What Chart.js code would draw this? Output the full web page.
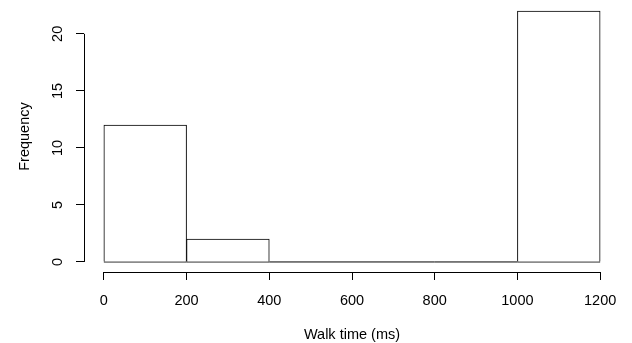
<!DOCTYPE html>
<html>
<head>
<meta charset="utf-8">
<script src="https://cdn.jsdelivr.net/npm/chart.js@4"></script>
<style>
	html, body { margin: 0; padding: 0; background: #fff; }
	#wrap { width: 632px; height: 343px; }
</style>
</head>
<body>
<div id="wrap"><canvas id="hist-chart" width="632" height="343"></canvas></div>
<script>
// histogram of walk times, bins of 200 ms
const binEdges = [0, 200, 400, 600, 800, 1000, 1200];
const counts = [12, 2, 0, 0, 0, 22];
const xTicks = [0, 200, 400, 600, 800, 1000, 1200];
const yTicks = [0, 5, 10, 15, 20];

const font = { family: "'Liberation Sans', Arial, sans-serif", size: 14.5 };
const ink = '#000';

const bars = counts.map((c, i) => ({ x: (binEdges[i] + binEdges[i + 1]) / 2, y: c }));
const baseline = binEdges.map((e) => ({ x: e, y: 0 }));

// R style axes: the axis line only runs from the first to the last tick
const rAxes = {
	id: 'rAxes',
	afterDraw(chart) {
		const { ctx, scales: { x, y } } = chart;
		ctx.save();
		ctx.strokeStyle = ink;
		ctx.lineWidth = 1;
		ctx.beginPath();
		const ay = Math.round(chart.chartArea.bottom) + 0.5;
		ctx.moveTo(x.getPixelForValue(xTicks[0]), ay);
		ctx.lineTo(x.getPixelForValue(xTicks[xTicks.length - 1]), ay);
		const ax = Math.round(chart.chartArea.left) + 0.5;
		ctx.moveTo(ax, y.getPixelForValue(yTicks[0]));
		ctx.lineTo(ax, y.getPixelForValue(yTicks[yTicks.length - 1]));
		ctx.stroke();
		ctx.restore();
	},
};

new Chart('hist-chart', {
	data: {
		datasets: [
			{
				type: 'bar',
				data: bars,
				backgroundColor: '#fff',
				borderColor: ink,
				borderWidth: 1,
				borderSkipped: 'start',
				barPercentage: 1,
				categoryPercentage: 1,
			},
			{
				type: 'line',
				data: baseline,
				borderColor: ink,
				borderWidth: 1,
				pointRadius: 0,
				fill: false,
			},
		],
	},
	options: {
		responsive: false,
		animation: false,
		layout: { padding: { top: 1, right: 12, bottom: 0, left: 0 } },
		plugins: { legend: { display: false }, tooltip: { enabled: false } },
		scales: {
			x: {
				type: 'linear',
				min: -48,
				max: 1248,
				offset: false,
				afterFit: (s) => {
					s.height = 71;
					s.paddingLeft = 0;
					s.paddingRight = 0;
				},
				afterBuildTicks: (s) => { s.ticks = xTicks.map((v) => ({ value: v })); },
				grid: { offset: false, drawOnChartArea: false, drawTicks: true, tickLength: 8, color: ink },
				border: { display: false },
				ticks: { font, color: ink, padding: 12, maxRotation: 0, autoSkip: false, callback: (v) => String(v) },
				title: { display: true, text: 'Walk time (ms)', font, color: ink, padding: { top: 0, bottom: -1 } },
			},
			y: {
				type: 'linear',
				min: -0.88,
				max: 22.88,
				afterFit: (s) => {
					s.width = 84;
					s.paddingTop = 0;
					s.paddingBottom = 0;
				},
				afterBuildTicks: (s) => { s.ticks = yTicks.map((v) => ({ value: v })); },
				grid: { drawOnChartArea: false, drawTicks: true, tickLength: 8, color: ink },
				border: { display: false },
				ticks: { font, color: ink, padding: 10, minRotation: 90, maxRotation: 90, crossAlign: 'center', autoSkip: false, callback: (v) => String(v) },
				title: { display: true, text: 'Frequency', font, color: ink, padding: { top: 16, bottom: 0 } },
			},
		},
	},
	plugins: [rAxes],
});
</script>
</body>
</html>
